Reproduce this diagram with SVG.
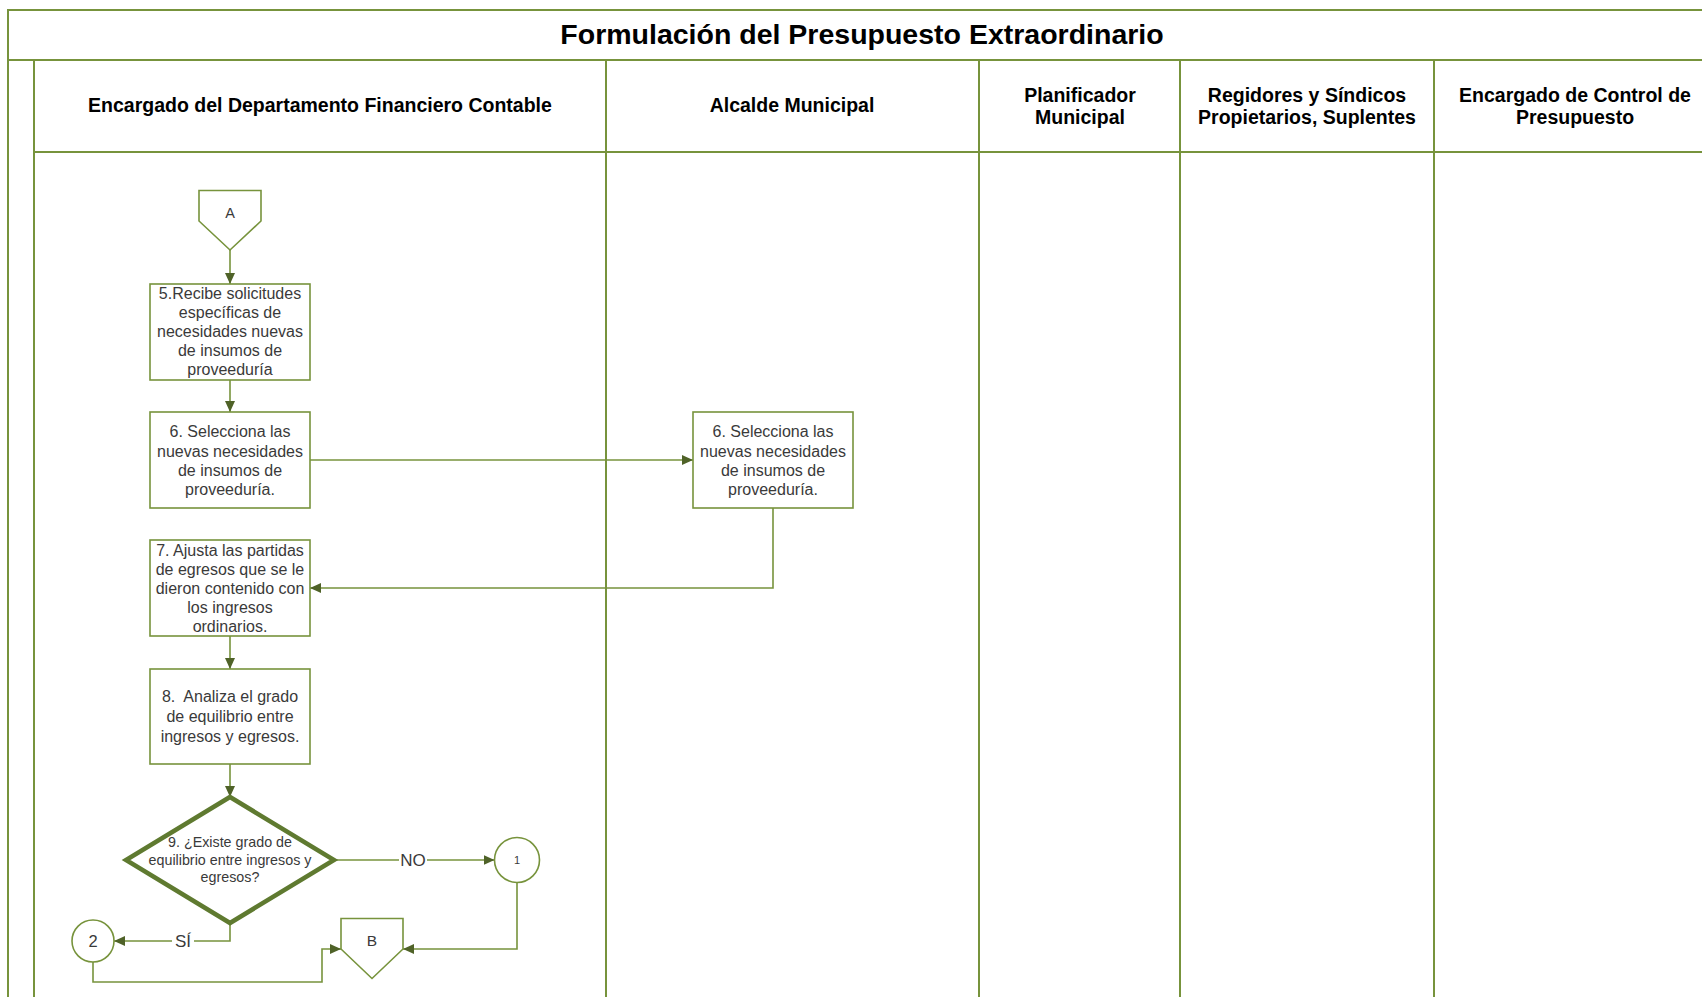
<svg xmlns="http://www.w3.org/2000/svg" width="1702" height="997" viewBox="0 0 1702 997">
  <defs>
    <style>
      .frame { fill: none; stroke: #77933C; stroke-width: 2; }
      .box { fill: #ffffff; stroke: #77933C; stroke-width: 1.6; }
      .dec { fill: #ffffff; stroke: #5f7a30; stroke-width: 4.5; stroke-linejoin: miter; }
      .conn { fill: none; stroke: #77933C; stroke-width: 1.6; }
      .title { font-family: "Liberation Sans", Arial, sans-serif; font-weight: bold; font-size: 28.5px; fill: #000000; text-anchor: middle; }
      .lane { font-family: "Liberation Sans", Arial, sans-serif; font-weight: bold; font-size: 19.5px; fill: #000000; text-anchor: middle; }
      .txt { font-family: "Liberation Sans", Arial, sans-serif; font-size: 16px; fill: #3a3a3a; text-anchor: middle; }
      .dtxt { font-family: "Liberation Sans", Arial, sans-serif; font-size: 14.3px; fill: #3a3a3a; text-anchor: middle; }
      .lbl { font-family: "Liberation Sans", Arial, sans-serif; font-size: 17px; fill: #3a3a3a; text-anchor: middle; }
    </style>
    <marker id="arrow" markerUnits="userSpaceOnUse" markerWidth="12" markerHeight="10" refX="11" refY="5" orient="auto">
      <path d="M0,0 L11,5 L0,10 z" fill="#4f6228"/>
    </marker>
  </defs>

  <rect x="0" y="0" width="1702" height="997" fill="#ffffff"/>

  <!-- swimlane frame -->
  <g id="pool">
    <path class="frame" d="M8,997 V10 H1716"/>
    <path class="frame" d="M8,60 H1716"/>
    <path class="frame" d="M34,152 H1716"/>
    <path class="frame" d="M34,60 V997"/>
    <path class="frame" d="M606,60 V997"/>
    <path class="frame" d="M979,60 V997"/>
    <path class="frame" d="M1180,60 V997"/>
    <path class="frame" d="M1434,60 V997"/>
    <text class="title" x="862" y="44">Formulación del Presupuesto Extraordinario</text>
    <text class="lane" x="320" y="112">Encargado del Departamento Financiero Contable</text>
    <text class="lane" x="792" y="112">Alcalde Municipal</text>
    <text class="lane" x="1080" y="101.5">Planificador</text>
    <text class="lane" x="1080" y="124">Municipal</text>
    <text class="lane" x="1307" y="101.5">Regidores y Síndicos</text>
    <text class="lane" x="1307" y="124">Propietarios, Suplentes</text>
    <text class="lane" x="1575" y="101.5">Encargado de Control de</text>
    <text class="lane" x="1575" y="124">Presupuesto</text>
  </g>

  <!-- connectors -->
  <g id="connectors">
    <path class="conn" d="M230,250 V284" marker-end="url(#arrow)"/>
    <path class="conn" d="M230,380 V412" marker-end="url(#arrow)"/>
    <path class="conn" d="M310,460 H693" marker-end="url(#arrow)"/>
    <path class="conn" d="M773,508 V588 H310" marker-end="url(#arrow)"/>
    <path class="conn" d="M230,636 V669" marker-end="url(#arrow)"/>
    <path class="conn" d="M230,764 V797" marker-end="url(#arrow)"/>
    <path class="conn" d="M334,860 H494.5" marker-end="url(#arrow)"/>
    <path class="conn" d="M230,923 V941 H114" marker-end="url(#arrow)"/>
    <path class="conn" d="M517,882.5 V949 H403" marker-end="url(#arrow)"/>
    <path class="conn" d="M93,962 V982 H322 V949 H341" marker-end="url(#arrow)"/>
    <rect x="399" y="849" width="28" height="20" fill="#ffffff"/>
    <text class="lbl" x="413" y="866">NO</text>
    <rect x="172" y="931" width="22" height="20" fill="#ffffff"/>
    <text class="lbl" x="183" y="947">SÍ</text>
  </g>

  <!-- off-page connector A -->
  <g id="offpage-A">
    <path class="box" d="M199,190.5 H261 V221 L230,250 L199,221 Z"/>
    <text class="txt" x="230" y="218" style="font-size:14.5px">A</text>
  </g>

  <g id="step5">
    <rect class="box" x="150" y="284" width="160" height="96"/>
    <text class="txt" x="230" y="299">5.Recibe solicitudes</text>
    <text class="txt" x="230" y="318">específicas de</text>
    <text class="txt" x="230" y="337">necesidades nuevas</text>
    <text class="txt" x="230" y="356">de insumos de</text>
    <text class="txt" x="230" y="375">proveeduría</text>
  </g>

  <g id="step6-dept">
    <rect class="box" x="150" y="412" width="160" height="96"/>
    <text class="txt" x="230" y="437">6. Selecciona las</text>
    <text class="txt" x="230" y="456.5">nuevas necesidades</text>
    <text class="txt" x="230" y="475.5">de insumos de</text>
    <text class="txt" x="230" y="495">proveeduría.</text>
  </g>

  <g id="step6-alcalde">
    <rect class="box" x="693" y="412" width="160" height="96"/>
    <text class="txt" x="773" y="437">6. Selecciona las</text>
    <text class="txt" x="773" y="456.5">nuevas necesidades</text>
    <text class="txt" x="773" y="475.5">de insumos de</text>
    <text class="txt" x="773" y="495">proveeduría.</text>
  </g>

  <g id="step7">
    <rect class="box" x="150" y="540" width="160" height="96"/>
    <text class="txt" x="230" y="555.5">7. Ajusta las partidas</text>
    <text class="txt" x="230" y="574.5">de egresos que se le</text>
    <text class="txt" x="230" y="593.5">dieron contenido con</text>
    <text class="txt" x="230" y="612.5">los ingresos</text>
    <text class="txt" x="230" y="632">ordinarios.</text>
  </g>

  <g id="step8">
    <rect class="box" x="150" y="669" width="160" height="95"/>
    <text class="txt" x="230" y="702" xml:space="preserve">8.  Analiza el grado</text>
    <text class="txt" x="230" y="721.5">de equilibrio entre</text>
    <text class="txt" x="230" y="741.5">ingresos y egresos.</text>
  </g>

  <g id="decision9">
    <path class="dec" d="M230,797 L334,860 L230,923 L126,860 Z"/>
    <text class="dtxt" x="230" y="847">9. ¿Existe grado de</text>
    <text class="dtxt" x="230" y="864.5">equilibrio entre ingresos y</text>
    <text class="dtxt" x="230" y="882">egresos?</text>
  </g>

  <g id="connector-1">
    <circle class="box" cx="517" cy="860" r="22.5" stroke-width="1.3"/>
    <text class="txt" x="517" y="864" style="font-size:11px">1</text>
  </g>

  <g id="connector-2">
    <circle class="box" cx="93" cy="941" r="21" stroke-width="1.3"/>
    <text class="txt" x="93" y="947" style="font-size:16.5px">2</text>
  </g>

  <!-- off-page connector B -->
  <g id="offpage-B">
    <path class="box" d="M341,918.5 H403 V949 L372,978.5 L341,949 Z"/>
    <text class="txt" x="372" y="946" style="font-size:15.5px">B</text>
  </g>
</svg>
